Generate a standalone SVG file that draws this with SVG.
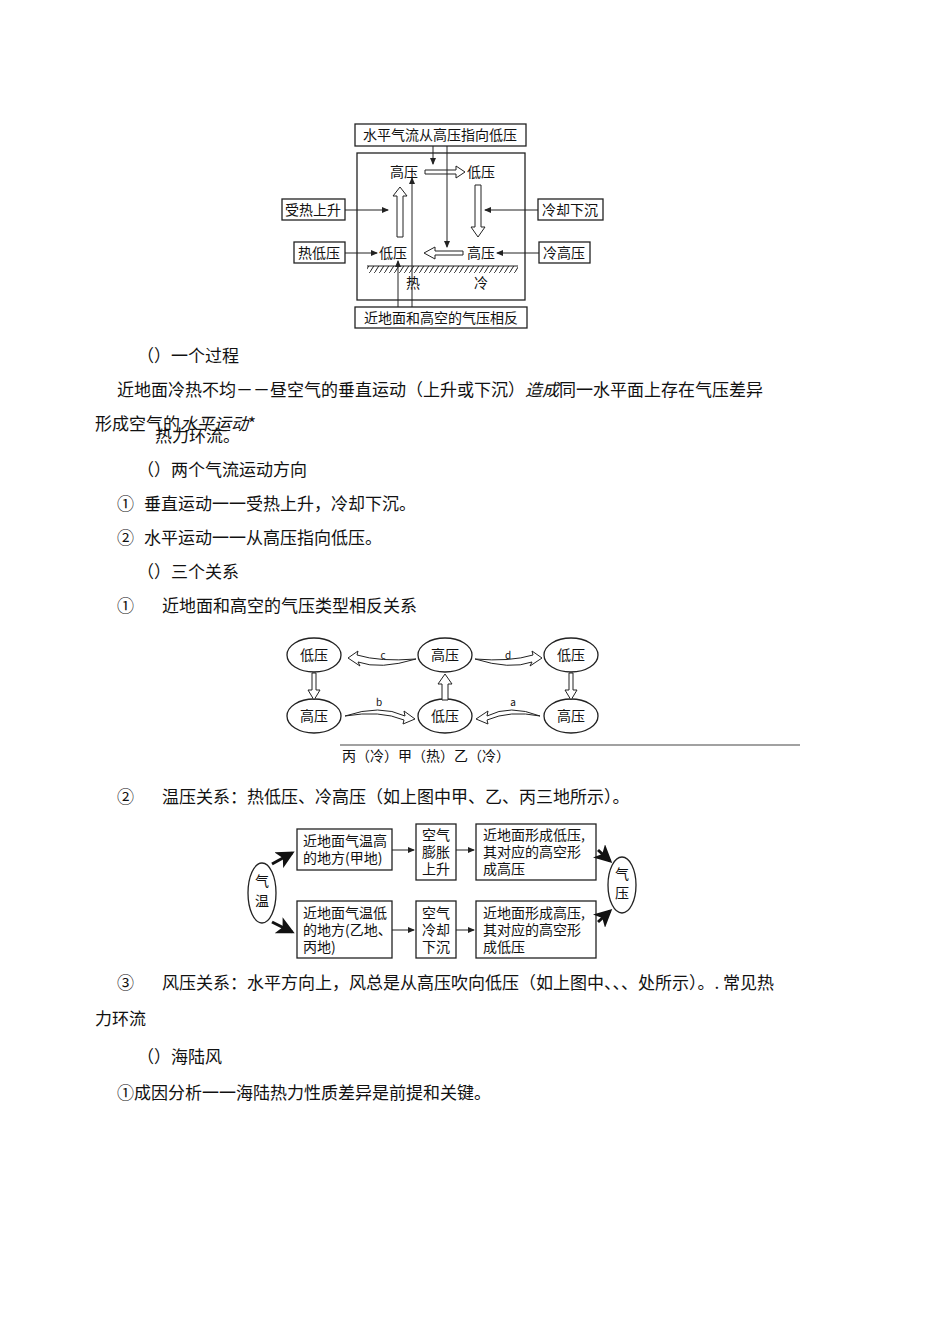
<svg xmlns="http://www.w3.org/2000/svg" width="950" height="1344" viewBox="0 0 950 1344">
<style>
text{font-family:"Noto Sans CJK SC","Liberation Serif",serif;fill:#111}
.b{fill:#fff;stroke:#222;stroke-width:1.3}
.s{font-size:14px}
.t{font-size:17px}
.l{stroke:#222;stroke-width:1;fill:none}
.h{fill:#fff;stroke:#222;stroke-width:1}
</style>
<defs>
<marker id="a" markerWidth="7" markerHeight="6" refX="6" refY="3" orient="auto"><path d="M0,0L7,3L0,6z" fill="#222"/></marker>
<marker id="k" markerWidth="6" markerHeight="6" refX="5" refY="3" orient="auto"><path d="M0,0L6,3L0,6L1.5,3z" fill="#111"/></marker>
<pattern id="hp" width="5" height="8" patternUnits="userSpaceOnUse"><path d="M0,8L5,0" stroke="#222"/></pattern>
</defs>
<rect width="950" height="1344" fill="#fff"/>
<g id="fig1">
<rect class="b" x="357" y="153" width="168" height="147"/>
<rect id="top" class="b" x="355" y="124" width="171" height="22"/><text class="s" x="440" y="140" text-anchor="middle">水平气流从高压指向低压</text>
<rect id="bot" class="b" x="355" y="307" width="172" height="21"/><text class="s" x="441" y="323" text-anchor="middle">近地面和高空的气压相反</text>
<rect class="b" x="282" y="199" width="63" height="21"/><text class="s" x="313" y="215" text-anchor="middle">受热上升</text>
<rect class="b" x="294" y="242" width="51" height="21"/><text class="s" x="319" y="258" text-anchor="middle">热低压</text>
<rect class="b" x="538" y="199" width="65" height="21"/><text class="s" x="570" y="215" text-anchor="middle">冷却下沉</text>
<rect class="b" x="539" y="242" width="51" height="21"/><text class="s" x="564" y="258" text-anchor="middle">冷高压</text>
<text class="s" x="404" y="177" text-anchor="middle">高压</text>
<text class="s" x="481" y="177" text-anchor="middle">低压</text>
<text class="s" x="393" y="258" text-anchor="middle">低压</text>
<text class="s" x="481" y="258" text-anchor="middle">高压</text>
<text class="s" x="413" y="288" text-anchor="middle">热</text>
<text class="s" x="481" y="288" text-anchor="middle">冷</text>
<rect x="367" y="266" width="151" height="7" fill="url(#hp)"/>
<line class="l" x1="367" y1="266" x2="518" y2="266"/>
<path class="h" d="M397,237V196H393L400,187L407,196H403V237Z"/>
<path class="h" d="M425,170H456V166L465,172L456,178V174H425Z"/>
<path class="h" d="M475,185H481V227H485L478,237L471,227H475Z"/>
<path class="h" d="M463,251H435V247L424,253L435,259V255H463Z"/>
</g>
<g id="connectors">
<line class="l" x1="433" y1="146" x2="433" y2="164" marker-end="url(#a)"/>
<line class="l" x1="447" y1="146" x2="447" y2="247" marker-end="url(#a)"/>
<line class="l" x1="412" y1="307" x2="412" y2="178" marker-end="url(#a)"/>
<line class="l" x1="398" y1="307" x2="398" y2="261" marker-end="url(#a)"/>
<line class="l" x1="345" y1="210" x2="388" y2="210" marker-end="url(#a)"/>
<line class="l" x1="345" y1="253" x2="377" y2="253" marker-end="url(#a)"/>
<line class="l" x1="538" y1="210" x2="485" y2="210" marker-end="url(#a)"/>
<line class="l" x1="539" y1="253" x2="497" y2="253" marker-end="url(#a)"/>
</g>
<g id="text1" class="t">
<text x="137" y="362">（）一个过程</text>
<text x="117" y="396">近地面冷热不均－－昼空气的垂直运动（上升或下沉）<tspan font-style="italic">造成</tspan>同一水平面上存在气压差异</text>
<text x="95" y="430">形成空气的<tspan font-style="italic">水平运动</tspan>*</text>
<text x="155" y="442">热力环流。</text>
<text x="137" y="476">（）两个气流运动方向</text>
<text x="117" y="510">①</text><text x="144" y="510">垂直运动一一受热上升，冷却下沉。</text>
<text x="117" y="544">②</text><text x="144" y="544">水平运动一一从高压指向低压。</text>
<text x="137" y="578">（）三个关系</text>
<text x="117" y="612">①</text><text x="162" y="612">近地面和高空的气压类型相反关系</text>
</g>
<g id="fig2">
<g id="n1"><ellipse class="b" cx="314" cy="655" rx="27" ry="17"/><text class="s" x="314" y="660" text-anchor="middle">低压</text></g>
<g id="n2"><ellipse class="b" cx="445" cy="655" rx="27" ry="17"/><text class="s" x="445" y="660" text-anchor="middle">高压</text></g>
<g id="n3"><ellipse class="b" cx="571" cy="655" rx="27" ry="17"/><text class="s" x="571" y="660" text-anchor="middle">低压</text></g>
<g id="n4"><ellipse class="b" cx="314" cy="716" rx="27" ry="17"/><text class="s" x="314" y="721" text-anchor="middle">高压</text></g>
<g id="n5"><ellipse class="b" cx="445" cy="716" rx="27" ry="17"/><text class="s" x="445" y="721" text-anchor="middle">低压</text></g>
<g id="n6"><ellipse class="b" cx="571" cy="716" rx="27" ry="17"/><text class="s" x="571" y="721" text-anchor="middle">高压</text></g>
<path class="h" d="M312,673V690H308L314,700L320,690H316V673Z"/>
<path class="h" d="M569,673V690H565L571,700L577,690H573V673Z"/>
<path class="h" d="M442,700V684H438L445,674L452,684H448V700Z"/>
<path class="h" d="M416,659Q380,670 358,662L360,666L348,658L358,651L357,655Q380,662 416,659Z"/>
<path class="h" d="M475,659Q510,670 532,662L530,666L542,658L532,651L533,655Q510,662 475,659Z"/>
<path class="h" d="M345,716Q380,704 405,716L404,711L415,719L403,724L404,720Q380,710 345,716Z"/>
<path class="h" d="M540,716Q510,704 487,716L488,711L476,719L488,724L487,720Q510,710 540,716Z"/>
<text x="383" y="659" font-size="10" text-anchor="middle" font-family="Liberation Serif,serif">c</text>
<text x="508" y="659" font-size="10" text-anchor="middle" font-family="Liberation Serif,serif">d</text>
<text x="379" y="706" font-size="10" text-anchor="middle" font-family="Liberation Serif,serif">b</text>
<text x="513" y="706" font-size="10" text-anchor="middle" font-family="Liberation Serif,serif">a</text>
<line x1="340" y1="745" x2="800" y2="745" stroke="#444" stroke-width="1.2"/>
<text x="342" y="761" font-size="14" font-family="'Noto Sans CJK SC',sans-serif">丙（冷）甲（热）乙（冷）</text>
</g>
<text class="t" x="117" y="803">②</text><text class="t" x="162" y="803">温压关系：热低压、冷高压（如上图中甲、乙、丙三地所示）。</text>
<g id="fig3">
<g id="qw"><ellipse class="b" cx="262" cy="893" rx="14" ry="30"/><text class="s" x="262" y="886" text-anchor="middle">气</text><text class="s" x="262" y="906" text-anchor="middle">温</text></g>
<g id="qy"><ellipse class="b" cx="622" cy="885" rx="14" ry="28"/><text class="s" x="622" y="879" text-anchor="middle">气</text><text class="s" x="622" y="898" text-anchor="middle">压</text></g>
<g id="a1"><rect class="b" x="297" y="829" width="95" height="41"/><text class="s" x="303" y="846">近地面气温高</text><text class="s" x="303" y="863">的地方(甲地)</text></g>
<g id="a2"><rect class="b" x="416" y="824" width="40" height="56"/><text class="s" x="436" y="840" text-anchor="middle">空气</text><text class="s" x="436" y="857" text-anchor="middle">膨胀</text><text class="s" x="436" y="874" text-anchor="middle">上升</text></g>
<g id="a3"><rect class="b" x="476" y="824" width="120" height="56"/><text class="s" x="483" y="840">近地面形成低压,</text><text class="s" x="483" y="857">其对应的高空形</text><text class="s" x="483" y="874">成高压</text></g>
<g id="b1"><rect class="b" x="297" y="901" width="95" height="57"/><text class="s" x="303" y="918">近地面气温低</text><text class="s" x="303" y="935">的地方(乙地、</text><text class="s" x="303" y="952">丙地)</text></g>
<g id="b2"><rect class="b" x="416" y="901" width="40" height="57"/><text class="s" x="436" y="918" text-anchor="middle">空气</text><text class="s" x="436" y="935" text-anchor="middle">冷却</text><text class="s" x="436" y="952" text-anchor="middle">下沉</text></g>
<g id="b3"><rect class="b" x="476" y="901" width="120" height="57"/><text class="s" x="483" y="918">近地面形成高压,</text><text class="s" x="483" y="935">其对应的高空形</text><text class="s" x="483" y="952">成低压</text></g>
<line class="l" x1="392" y1="850" x2="414" y2="850" marker-end="url(#a)"/>
<line class="l" x1="456" y1="850" x2="474" y2="850" marker-end="url(#a)"/>
<line class="l" x1="392" y1="930" x2="414" y2="930" marker-end="url(#a)"/>
<line class="l" x1="456" y1="930" x2="474" y2="930" marker-end="url(#a)"/>
<line x1="272" y1="864" x2="292" y2="853" stroke="#111" stroke-width="3" marker-end="url(#k)"/>
<line x1="272" y1="922" x2="292" y2="932" stroke="#111" stroke-width="3" marker-end="url(#k)"/>
<line x1="598" y1="850" x2="610" y2="861" stroke="#111" stroke-width="3" marker-end="url(#k)"/>
<line x1="598" y1="922" x2="610" y2="911" stroke="#111" stroke-width="3" marker-end="url(#k)"/>
</g>
<g id="text2" class="t">
<text x="117" y="989">③</text><text x="162" y="989">风压关系：水平方向上，风总是从高压吹向低压（如上图中、、、处所示）。. 常见热</text>
<text x="95" y="1025">力环流</text>
<text x="137" y="1063">（）海陆风</text>
<text x="117" y="1099">①成因分析一一海陆热力性质差异是前提和关键。</text>
</g>
</svg>
